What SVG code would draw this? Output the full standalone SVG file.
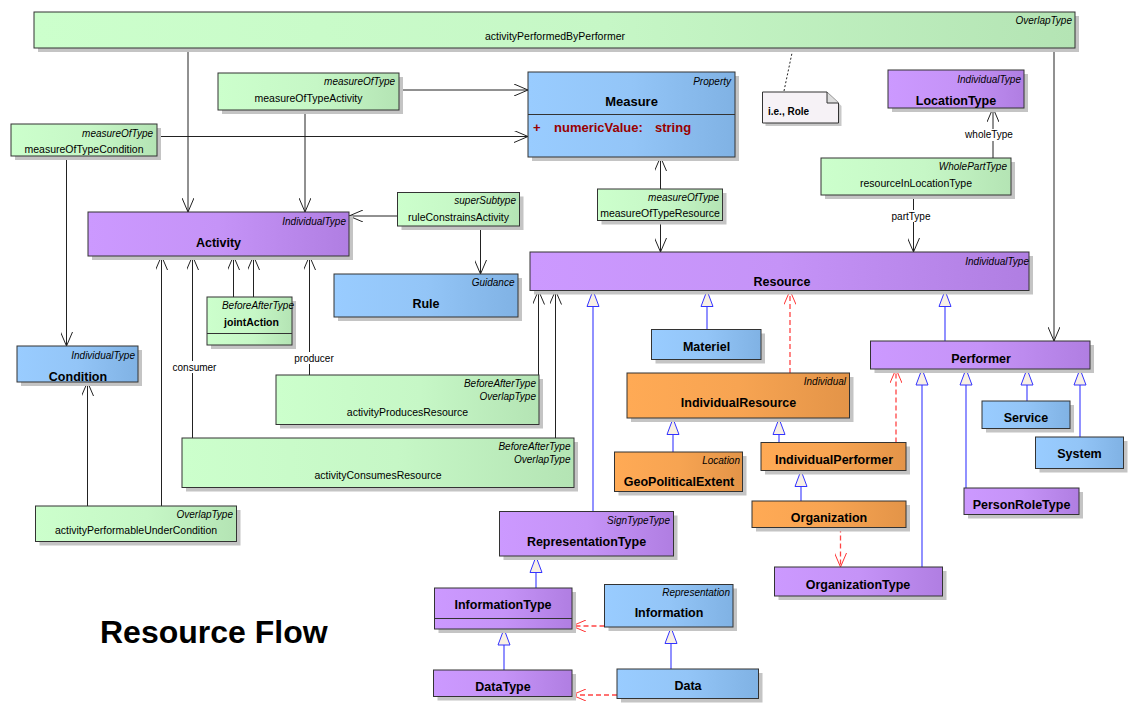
<svg xmlns="http://www.w3.org/2000/svg" width="1144" height="712" viewBox="0 0 1144 712">
<defs>
<linearGradient id="gG" x1="0" y1="0" x2="1" y2="0"><stop offset="0" stop-color="#ccffcc"/><stop offset="0.55" stop-color="#c6f7c6"/><stop offset="1" stop-color="#b4e4b4"/></linearGradient>
<linearGradient id="gP" x1="0" y1="0" x2="1" y2="0"><stop offset="0" stop-color="#cc99ff"/><stop offset="0.5" stop-color="#c593f7"/><stop offset="1" stop-color="#b07ee2"/></linearGradient>
<linearGradient id="gB" x1="0" y1="0" x2="1" y2="0"><stop offset="0" stop-color="#99ccff"/><stop offset="0.5" stop-color="#93c5f7"/><stop offset="1" stop-color="#80b2e4"/></linearGradient>
<linearGradient id="gO" x1="0" y1="0" x2="1" y2="0"><stop offset="0" stop-color="#ffaa55"/><stop offset="0.5" stop-color="#f7a452"/><stop offset="1" stop-color="#e39448"/></linearGradient>
<marker id="open" viewBox="0 0 14 12" refX="14" refY="6" markerWidth="14" markerHeight="12" orient="auto" markerUnits="userSpaceOnUse"><path d="M0,0 L14,6 L0,12" fill="none" stroke="#222" stroke-width="1"/></marker>
<marker id="openR" viewBox="0 0 14 12" refX="14" refY="6" markerWidth="14" markerHeight="12" orient="auto" markerUnits="userSpaceOnUse"><path d="M0,0 L14,6 L0,12" fill="none" stroke="#ff3333" stroke-width="1"/></marker>
<marker id="gen" viewBox="-1 -1 18 14" refX="16" refY="6" markerWidth="18" markerHeight="14" orient="auto" markerUnits="userSpaceOnUse"><path d="M0,0 L16,6 L0,12 Z" fill="#f8f0e4" stroke="#3333ff" stroke-width="1"/></marker>
</defs>
<style>
text{font-family:"Liberation Sans",Arial,sans-serif;fill:#000}
.sh{fill:#c4c4c4}
.bx{stroke:#333;stroke-width:1}
.g{fill:url(#gG)}.p{fill:url(#gP)}.b{fill:url(#gB)}.o{fill:url(#gO)}
.st{font-size:10px;font-style:italic;text-anchor:end}
.nm{font-size:10.5px;text-anchor:middle}
.bn{font-size:12.5px;font-weight:bold;text-anchor:middle}
.lbl{font-size:10px;text-anchor:middle}
.as{fill:none;stroke:#222;stroke-width:1;marker-end:url(#open)}
.ln{fill:none;stroke:#222;stroke-width:1}
.ge{fill:none;stroke:#5555ff;stroke-width:1.3;marker-end:url(#gen)}
.rd{fill:none;stroke:#ff4444;stroke-width:1.3;stroke-dasharray:5,3;marker-end:url(#openR)}
.at{font-size:13px;font-weight:bold;fill:#990000}
</style>
<rect width="1144" height="712" fill="#fff"/>

<g id="connectors">
<path class="as" d="M188,48 V212"/>
<path class="as" d="M1054,48 V341"/>
<path class="as" d="M399,90 H528"/>
<path class="as" d="M305,110 V212"/>
<path class="as" d="M157,136.5 H528"/>
<path class="as" d="M66.5,156 V346"/>
<path class="as" d="M397.5,216 H349"/>
<path class="as" d="M480.5,226 V274"/>
<path class="as" d="M660.5,189 V157"/>
<path class="as" d="M660.5,221 V252"/>
<path class="as" d="M993,158 V108"/>
<path class="as" d="M913.5,195 V252"/>
<path class="as" d="M233.5,297 V256"/>
<path class="as" d="M253.5,297 V256"/>
<path class="as" d="M87.5,506 V382"/>
<path class="as" d="M161.5,506 V256"/>
<path class="as" d="M192.5,438 V256"/>
<path class="as" d="M309.5,375 V256"/>
<path class="as" d="M538.5,375 V290.5"/>
<path class="as" d="M555.5,438 V290.5"/>
<path class="ln" d="M784,91 L792,53" stroke-dasharray="2,2" stroke="#555"/>
<path class="ge" d="M593,511.5 V290.5"/>
<path class="ge" d="M707,329.5 V290.5"/>
<path class="ge" d="M945,341 V290.5"/>
<path class="rd" d="M790,373 V290.5"/>
<path class="ge" d="M673,452 V418.5"/>
<path class="ge" d="M779,442.5 V418.5"/>
<path class="rd" d="M896,442.5 V369"/>
<path class="ge" d="M801,501 V470.5"/>
<path class="rd" d="M840.5,527.5 V567"/>
<path class="ge" d="M922,567 V369"/>
<path class="ge" d="M966,488 V369"/>
<path class="ge" d="M1027,401 V369"/>
<path class="ge" d="M1080,437 V369"/>
<path class="ge" d="M536,588 V556.5"/>
<path class="ge" d="M504,670 V629"/>
<path class="ge" d="M671,669 V627.5"/>
<path class="rd" d="M604.5,626 H572"/>
<path class="rd" d="M617,695 H572"/>
<g id="labels">
<rect x="964" y="129" width="50" height="12" fill="#fff"/><text class="lbl" x="989" y="138">wholeType</text>
<rect x="888" y="210" width="46" height="12" fill="#fff"/><text class="lbl" x="911" y="219.5">partType</text>
<rect x="171" y="361" width="47" height="12" fill="#fff"/><text class="lbl" x="194.5" y="370.5">consumer</text>
<rect x="292" y="352" width="44" height="12" fill="#fff"/><text class="lbl" x="314" y="361.5">producer</text>
</g>
</g>

<g id="activityPerformedByPerformer"><rect class="sh" x="38" y="16" width="1041" height="36"/><rect class="bx g" x="34" y="12" width="1041" height="36"/><text class="st" x="1072" y="24">OverlapType</text><text class="nm" x="555" y="40">activityPerformedByPerformer</text></g>
<g id="measureOfTypeActivity"><rect class="sh" x="222" y="77" width="181" height="37"/><rect class="bx g" x="218" y="73" width="181" height="37"/><text class="st" x="395" y="85">measureOfType</text><text class="nm" x="308.5" y="101.5">measureOfTypeActivity</text></g>
<g id="measureOfTypeCondition"><rect class="sh" x="15" y="128" width="146" height="32"/><rect class="bx g" x="11" y="124" width="146" height="32"/><text class="st" x="153" y="136.5">measureOfType</text><text class="nm" x="84" y="152.5">measureOfTypeCondition</text></g>
<g id="Measure"><rect class="sh" x="532" y="76" width="207" height="85"/><rect class="bx b" x="528" y="72" width="207" height="85"/><line x1="528" y1="114.5" x2="735" y2="114.5" stroke="#333"/><text class="st" x="731" y="84.5">Property</text><text class="bn" x="631.5" y="105.5" style="font-size:13px">Measure</text><text class="at" x="533" y="131.5">+</text><text class="at" x="554" y="131.5">numericValue:</text><text class="at" x="655" y="131.5">string</text></g>
<g id="note"><path d="M762.5,92 H827 L838.5,103 V123 H762.5 Z" fill="#c8c8c8" transform="translate(3,3)"/><path d="M762.5,92 H827 L838.5,103 V123 H762.5 Z" fill="#f6f2f6" stroke="#333"/><path d="M827,92 V103 H838.5" fill="#ddd" stroke="#333"/><text x="768" y="114.5" style="font-size:10px;font-weight:bold">i.e., Role</text></g>
<g id="LocationType"><rect class="sh" x="892" y="74" width="136" height="38"/><rect class="bx p" x="888" y="70" width="136" height="38"/><text class="st" x="1021" y="82.5">IndividualType</text><text class="bn" x="956" y="104.5">LocationType</text></g>
<g id="resourceInLocationType"><rect class="sh" x="825" y="162" width="190" height="37"/><rect class="bx g" x="821" y="158" width="190" height="37"/><text class="st" x="1007" y="170">WholePartType</text><text class="nm" x="916" y="186.5">resourceInLocationType</text></g>
<g id="Activity"><rect class="sh" x="92" y="216" width="261" height="44"/><rect class="bx p" x="88" y="212" width="261" height="44"/><text class="st" x="346" y="224.5">IndividualType</text><text class="bn" x="218.5" y="246.5">Activity</text></g>
<g id="ruleConstrainsActivity"><rect class="sh" x="401.5" y="196.5" width="122" height="33.5"/><rect class="bx g" x="397.5" y="192.5" width="122" height="33.5"/><text class="st" x="516" y="204">superSubtype</text><text class="nm" x="458.5" y="220.5">ruleConstrainsActivity</text></g>
<g id="Rule"><rect class="sh" x="338" y="278" width="184" height="43"/><rect class="bx b" x="334" y="274" width="184" height="43"/><text class="st" x="514.5" y="286">Guidance</text><text class="bn" x="426" y="308">Rule</text></g>
<g id="jointAction"><rect class="sh" x="211" y="301" width="85" height="48"/><rect class="bx g" x="207" y="297" width="85" height="48"/><line x1="207" y1="333.5" x2="292" y2="333.5" stroke="#333"/><text class="st" x="294" y="309">BeforeAfterType</text><text x="251.5" y="325.5" style="font-size:10.5px;font-weight:bold;text-anchor:middle">jointAction</text></g>
<g id="Condition"><rect class="sh" x="21" y="350" width="121" height="36"/><rect class="bx b" x="17" y="346" width="121" height="36"/><text class="st" x="135" y="358.5">IndividualType</text><text class="bn" x="78" y="380.5">Condition</text></g>
<g id="activityProducesResource"><rect class="sh" x="280" y="379" width="263" height="49.5"/><rect class="bx g" x="276" y="375" width="263" height="49.5"/><text class="st" x="536" y="387">BeforeAfterType</text><text class="st" x="536" y="400">OverlapType</text><text class="nm" x="407.5" y="416">activityProducesResource</text></g>
<g id="activityConsumesResource"><rect class="sh" x="186" y="442" width="392" height="49.5"/><rect class="bx g" x="182" y="438" width="392" height="49.5"/><text class="st" x="570.5" y="450">BeforeAfterType</text><text class="st" x="570.5" y="463">OverlapType</text><text class="nm" x="378" y="478.5">activityConsumesResource</text></g>
<g id="activityPerformableUnderCondition"><rect class="sh" x="39.5" y="510" width="201" height="35.5"/><rect class="bx g" x="35.5" y="506" width="201" height="35.5"/><text class="st" x="233" y="518">OverlapType</text><text class="nm" x="136" y="534">activityPerformableUnderCondition</text></g>
<g id="Resource"><rect class="sh" x="534" y="256" width="499" height="38.5"/><rect class="bx p" x="530" y="252" width="499" height="38.5"/><text class="st" x="1029" y="264.5">IndividualType</text><text class="bn" x="782" y="285.5">Resource</text></g>
<g id="measureOfTypeResource"><rect class="sh" x="601.5" y="193" width="125" height="31.5"/><rect class="bx g" x="597.5" y="189" width="125" height="31.5"/><text class="st" x="719" y="201">measureOfType</text><text class="nm" x="660" y="217">measureOfTypeResource</text></g>
<g id="Materiel"><rect class="sh" x="655.5" y="333.5" width="109.5" height="30"/><rect class="bx b" x="651.5" y="329.5" width="109.5" height="30"/><text class="bn" x="706.5" y="350.5">Materiel</text></g>
<g id="IndividualResource"><rect class="sh" x="631" y="377" width="222.5" height="45"/><rect class="bx o" x="627" y="373" width="222.5" height="45"/><text class="st" x="846" y="385">Individual</text><text class="bn" x="738.5" y="406.5">IndividualResource</text></g>
<g id="GeoPoliticalExtent"><rect class="sh" x="618.5" y="456" width="128" height="39.5"/><rect class="bx o" x="614.5" y="452" width="128" height="39.5"/><text class="st" x="740" y="464">Location</text><text class="bn" x="679" y="485.5">GeoPoliticalExtent</text></g>
<g id="IndividualPerformer"><rect class="sh" x="765" y="446.5" width="145" height="28"/><rect class="bx o" x="761" y="442.5" width="145" height="28"/><text class="bn" x="834" y="463.5">IndividualPerformer</text></g>
<g id="Organization"><rect class="sh" x="756" y="505" width="154" height="26.5"/><rect class="bx o" x="752" y="501" width="154" height="26.5"/><text class="bn" x="829" y="521.5">Organization</text></g>
<g id="OrganizationType"><rect class="sh" x="778.5" y="571" width="168" height="29"/><rect class="bx p" x="774.5" y="567" width="168" height="29"/><text class="bn" x="858" y="588.5">OrganizationType</text></g>
<g id="Performer"><rect class="sh" x="874.5" y="345" width="219.5" height="28"/><rect class="bx p" x="870.5" y="341" width="219.5" height="28"/><text class="bn" x="981" y="362.5">Performer</text></g>
<g id="Service"><rect class="sh" x="986" y="405" width="88" height="27.5"/><rect class="bx b" x="982" y="401" width="88" height="27.5"/><text class="bn" x="1026" y="421.5">Service</text></g>
<g id="System"><rect class="sh" x="1039.5" y="441" width="88" height="31.5"/><rect class="bx b" x="1035.5" y="437" width="88" height="31.5"/><text class="bn" x="1079.5" y="458">System</text></g>
<g id="PersonRoleType"><rect class="sh" x="968" y="492" width="115" height="26.5"/><rect class="bx p" x="964" y="488" width="115" height="26.5"/><text class="bn" x="1021.5" y="509">PersonRoleType</text></g>
<g id="RepresentationType"><rect class="sh" x="503.5" y="515.5" width="174" height="44.5"/><rect class="bx p" x="499.5" y="511.5" width="174" height="44.5"/><text class="st" x="670" y="524">SignTypeType</text><text class="bn" x="586.5" y="546">RepresentationType</text></g>
<g id="InformationType"><rect class="sh" x="438.5" y="592" width="137.5" height="41"/><rect class="bx p" x="434.5" y="588" width="137.5" height="41"/><line x1="434.5" y1="618.5" x2="572" y2="618.5" stroke="#333"/><text class="bn" x="503" y="609">InformationType</text></g>
<g id="DataType"><rect class="sh" x="437.5" y="674" width="138.5" height="26.5"/><rect class="bx p" x="433.5" y="670" width="138.5" height="26.5"/><text class="bn" x="503" y="690.5">DataType</text></g>
<g id="Information"><rect class="sh" x="608.5" y="588.5" width="128.5" height="42.5"/><rect class="bx b" x="604.5" y="584.5" width="128.5" height="42.5"/><text class="st" x="730" y="596">Representation</text><text class="bn" x="669" y="616.5">Information</text></g>
<g id="Data"><rect class="sh" x="621" y="673" width="141.5" height="29.5"/><rect class="bx b" x="617" y="669" width="141.5" height="29.5"/><text class="bn" x="688" y="689.5">Data</text></g>
<text x="100" y="643" style="font-size:32px;font-weight:bold">Resource Flow</text>
</svg>
